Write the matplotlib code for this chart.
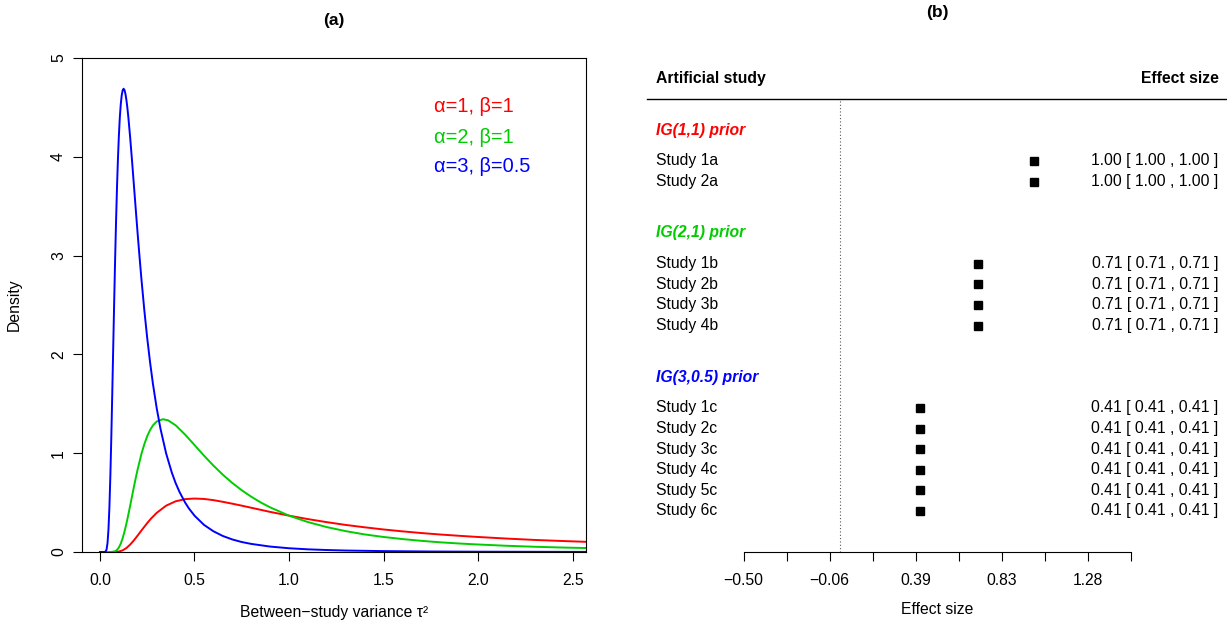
import matplotlib
matplotlib.use("Agg")
import matplotlib.pyplot as plt

plt.rcParams["font.family"] = ["Liberation Sans", "DejaVu Sans"]

# (a) inverse-gamma prior densities
red_x = [0.0, 0.06, 0.08, 0.10, 0.12, 0.14, 0.16, 0.18, 0.20, 0.22,
         0.25, 0.27, 0.30, 0.35, 0.40, 0.45, 0.50, 0.55, 0.60, 0.65,
         0.70, 0.75, 0.80, 0.90, 1.0, 1.1, 1.2, 1.3, 1.4, 1.5,
         1.6, 1.7, 1.8, 1.9, 2.0, 2.15, 2.3, 2.45, 2.6]
red_y = [0.0, 0.0, 0.0006, 0.0045, 0.0167, 0.0403, 0.0754, 0.1193, 0.1684, 0.2193,
         0.293, 0.3378, 0.396, 0.469, 0.513, 0.535, 0.541, 0.537, 0.525, 0.508,
         0.489, 0.469, 0.448, 0.406, 0.368, 0.333, 0.302, 0.274, 0.250, 0.228,
         0.209, 0.192, 0.177, 0.164, 0.152, 0.136, 0.122, 0.111, 0.101]

green_x = [0.0, 0.04, 0.06, 0.08, 0.09, 0.10, 0.11, 0.12, 0.13, 0.14,
           0.15, 0.16, 0.17, 0.18, 0.19, 0.20, 0.22, 0.235, 0.25, 0.265,
           0.28, 0.30, 0.333, 0.36, 0.40, 0.45, 0.50, 0.55, 0.60, 0.65,
           0.70, 0.75, 0.80, 0.85, 0.90, 1.0, 1.1, 1.2, 1.3, 1.4,
           1.5, 1.6, 1.7, 1.8, 1.9, 2.0, 2.15, 2.3, 2.45, 2.6]
green_y = [0.0, 0.0, 0.0003, 0.0073, 0.0205, 0.0454, 0.0847, 0.139, 0.2077, 0.288,
           0.3771, 0.471, 0.5674, 0.663, 0.755, 0.842, 0.997, 1.093, 1.172, 1.234,
           1.281, 1.321, 1.344, 1.333, 1.283, 1.189, 1.083, 0.976, 0.875, 0.782,
           0.699, 0.625, 0.560, 0.502, 0.452, 0.368, 0.303, 0.252, 0.211, 0.178,
           0.152, 0.131, 0.113, 0.098, 0.086, 0.076, 0.063, 0.053, 0.045, 0.039]

blue_x = [0.0, 0.02, 0.03, 0.035, 0.04, 0.045, 0.05, 0.055, 0.06, 0.065,
          0.07, 0.075, 0.08, 0.085, 0.09, 0.095, 0.10, 0.105, 0.11, 0.115,
          0.12, 0.125, 0.13, 0.135, 0.14, 0.145, 0.15, 0.16, 0.17, 0.18,
          0.19, 0.20, 0.21, 0.22, 0.235, 0.25, 0.265, 0.28, 0.30, 0.32,
          0.35, 0.38, 0.40, 0.42, 0.45, 0.47, 0.50, 0.55, 0.60, 0.65,
          0.70, 0.75, 0.80, 0.90, 1.0, 1.1, 1.2, 1.3, 1.5, 1.75,
          2.0, 2.3, 2.6]
blue_y = [0.0, 0.0, 0.004, 0.026, 0.091, 0.228, 0.454, 0.770, 1.159, 1.597,
          2.058, 2.514, 2.946, 3.338, 3.683, 3.974, 4.211, 4.398, 4.531, 4.622,
          4.673, 4.689, 4.675, 4.634, 4.574, 4.496, 4.404, 4.190, 3.951, 3.702,
          3.451, 3.206, 2.972, 2.748, 2.441, 2.165, 1.921, 1.705, 1.457, 1.249,
          0.998, 0.804, 0.699, 0.611, 0.502, 0.442, 0.368, 0.275, 0.210, 0.162,
          0.127, 0.101, 0.082, 0.055, 0.038, 0.027, 0.020, 0.015, 0.009, 0.005,
          0.003, 0.002, 0.001]

curve_labels = ["\u03b1=1, \u03b2=1", "\u03b1=2, \u03b2=1", "\u03b1=3, \u03b2=0.5"]
colors = ["#FF0000", "#00CD00", "#0000FF"]

# (b) forest plot of artificial studies
group_names = ["IG(1,1) prior", "IG(2,1) prior", "IG(3,0.5) prior"]
study_names = [["Study 1a", "Study 2a"],
               ["Study 1b", "Study 2b", "Study 3b", "Study 4b"],
               ["Study 1c", "Study 2c", "Study 3c", "Study 4c", "Study 5c", "Study 6c"]]
estimates = [[1.00, 1.00],
             [0.71, 0.71, 0.71, 0.71],
             [0.41, 0.41, 0.41, 0.41, 0.41, 0.41]]
ci_lower = [[1.00, 1.00],
            [0.71, 0.71, 0.71, 0.71],
            [0.41, 0.41, 0.41, 0.41, 0.41, 0.41]]
ci_upper = [[1.00, 1.00],
            [0.71, 0.71, 0.71, 0.71],
            [0.41, 0.41, 0.41, 0.41, 0.41, 0.41]]
axis_ticks = [-0.5, -0.2775, -0.055, 0.1675, 0.39, 0.6125, 0.835, 1.0575, 1.28, 1.5025]
axis_labels = ["\u22120.50", "", "\u22120.06", "", "0.39", "", "0.83", "", "1.28", ""]

# row layout (forest rows, counted from the axis upward)
group_rows = [20.5, 15.5, 8.5]
study_rows = [[19, 18], [14, 13, 12, 11], [7, 6, 5, 4, 3, 2]]

fs = 11.3
fig = plt.figure(figsize=(12.27, 6.22), dpi=100)

# ---- panel (a)
ax = fig.add_axes([82 / 1227, 1 - 552 / 622, 504 / 1227, 494 / 622])
for xs, ys, c in zip([red_x, green_x, blue_x], [red_y, green_y, blue_y], colors):
    ax.plot(xs, ys, color=c, lw=1.4)
ax.set_xlim(-0.095, 2.571)
ax.set_ylim(0, 5)
ax.set_xticks([0.0, 0.5, 1.0, 1.5, 2.0, 2.5])
ax.set_xticklabels(["0.0", "0.5", "1.0", "1.5", "2.0", "2.5"])
ax.set_yticks([0, 1, 2, 3, 4, 5])
ax.set_yticklabels(["0", "1", "2", "3", "4", "5"], rotation=90, va="center")
ax.tick_params(axis="both", labelsize=fs, length=6.5, width=0.8)
ax.tick_params(axis="x", pad=8.5)
ax.tick_params(axis="y", pad=5)
for s in ax.spines.values():
    s.set_linewidth(0.8)
for lab, c, yy in zip(curve_labels, colors, [4.51, 4.20, 3.905]):
    ax.text(1.767, yy, lab, color=c, fontsize=14.4, va="center", ha="left")
fig.text(14 / 1227, 1 - 305 / 622, "Density", rotation=90, fontsize=fs, ha="center", va="center")
fig.text(334 / 1227, 1 - 617 / 622, "Between\u2212study variance \u03c4\u00b2", fontsize=fs,
         ha="center", va="baseline")
fig.text(334 / 1227, 1 - 21 / 622, "(a)", fontsize=12.5, fontweight="bold", ha="center", va="center")

# ---- panel (b)
bx = fig.add_axes([647 / 1227, 1 - 552 / 622, 580 / 1227, 494 / 622])
bx.set_xlim(-1.0, 2.0)
bx.set_ylim(0, 24)
for sp in ["top", "right", "left"]:
    bx.spines[sp].set_visible(False)
bx.spines["bottom"].set_bounds(axis_ticks[0], axis_ticks[-1])
bx.spines["bottom"].set_linewidth(0.8)
bx.set_yticks([])
bx.set_xticks(axis_ticks)
bx.set_xticklabels(axis_labels)
bx.tick_params(axis="x", labelsize=fs, length=6.5, width=0.8, pad=8.5)

bx.text(-0.953, 23, "Artificial study", fontsize=fs, fontweight="bold", ha="left", va="center")
bx.text(1.96, 23, "Effect size", fontsize=fs, fontweight="bold", ha="right", va="center")
bx.plot([-1.0, 2.0], [22, 22], color="black", lw=1.0, clip_on=False)
bx.plot([0, 0], [0, 22], color="#555555", lw=0.8, ls=(0, (1, 2)))

for g, name in enumerate(group_names):
    bx.text(-0.953, group_rows[g], name, color=colors[g], fontsize=fs, fontweight="bold",
            fontstyle="italic", ha="left", va="center")
    for i, study in enumerate(study_names[g]):
        r = study_rows[g][i]
        bx.text(-0.953, r, study, fontsize=fs, ha="left", va="center")
        bx.plot([ci_lower[g][i], ci_upper[g][i]], [r, r], color="black", lw=0.8)
        bx.plot(estimates[g][i], r, marker="s", color="black", markersize=5.8, ls="none")
        bx.text(1.957, r, f"{estimates[g][i]:.2f} [ {ci_lower[g][i]:.2f} , {ci_upper[g][i]:.2f} ]",
                fontsize=fs, ha="right", va="center")

fig.text(937 / 1227, 1 - 610 / 622, "Effect size", fontsize=fs, ha="center", va="center")
fig.text(937 / 1227, 1 - 12 / 622, "(b)", fontsize=12.5, fontweight="bold", ha="center", va="center")

fig.savefig("out.png", dpi=100)
